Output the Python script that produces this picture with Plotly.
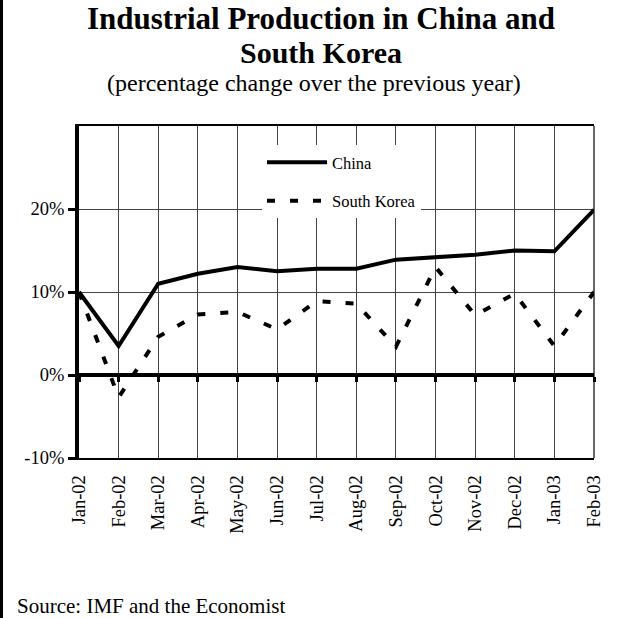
import plotly.graph_objects as go

months = ["Jan-02", "Feb-02", "Mar-02", "Apr-02", "May-02", "Jun-02", "Jul-02",
          "Aug-02", "Sep-02", "Oct-02", "Nov-02", "Dec-02", "Jan-03", "Feb-03"]
china = [10.0, 3.5, 11.0, 12.2, 13.0, 12.5, 12.8, 12.8, 13.9, 14.2, 14.5, 15.0, 14.9, 19.9]
south_korea = [10.0, -2.7, 4.6, 7.3, 7.6, 5.5, 8.9, 8.6, 3.4, 13.0, 7.2, 9.8, 3.5, 10.0]
y_ticks = [-10, 0, 10, 20]
y_tick_labels = ["-10%", "0%", "10%", "20%"]

title_line1 = "Industrial Production in China and"
title_line2 = "South Korea"
subtitle_text = "(percentage change over the previous year)"
source_text = "Source: IMF and the Economist"

FONT = "Liberation Serif, Times New Roman, serif"

# plot-area geometry in pixels (for converting text positions to paper coords)
W, H = 641, 618
L, R, T, B = 79, 47, 126, 160
PW, PH = W - L - R, H - T - B


def px(x):
    return (x - L) / PW


def py(y):
    return (H - B - y) / PH


fig = go.Figure()
fig.add_trace(go.Scatter(
    x=months, y=china, name="China", mode="lines",
    line=dict(color="black", width=4), legendgroup="a", hoverinfo="skip"))
fig.add_trace(go.Scatter(
    x=months, y=south_korea, name="South Korea", mode="lines",
    line=dict(color="black", width=4, dash="8px,15px"), legendgroup="b",
    hoverinfo="skip"))

fig.update_layout(
    width=W, height=H,
    margin=dict(l=L, r=R, t=T, b=B, pad=0),
    paper_bgcolor="white", plot_bgcolor="white",
    font=dict(family=FONT, color="black"),
    showlegend=True,
    legend=dict(
        x=px(262), y=py(145), xanchor="left", yanchor="top",
        bgcolor="white", borderwidth=0,
        font=dict(family=FONT, size=16.5, color="black"),
        itemwidth=60, tracegroupgap=14, traceorder="grouped"),
    xaxis=dict(
        type="category", categoryorder="array", categoryarray=months,
        range=[0, len(months) - 1],
        showgrid=True, gridcolor="#444", gridwidth=1,
        showline=True, linecolor="black", linewidth=1.5, mirror=True,
        ticks="", tickangle=-90, ticklabelstandoff=8,
        tickfont=dict(family=FONT, size=18.5, color="black"),
        zeroline=False),
    xaxis2=dict(
        overlaying="x", anchor="free", position=0.25,
        range=[0, len(months) - 1],
        tickmode="array", tickvals=list(range(len(months))),
        showticklabels=False, showgrid=False, zeroline=False,
        showline=True, linecolor="black", linewidth=4,
        ticks="outside", ticklen=5, tickwidth=3, tickcolor="black"),
    yaxis=dict(
        range=[-10, 30], tickmode="array", tickvals=y_ticks, ticktext=y_tick_labels,
        showgrid=True, gridcolor="#444", gridwidth=1,
        showline=True, linecolor="black", linewidth=4,
        ticks="outside", ticklen=7, tickwidth=3, tickcolor="black",
        tickfont=dict(family=FONT, size=18.5, color="black"),
        zeroline=False),
    shapes=[
        dict(type="line", xref="paper", yref="paper", x0=1, x1=1, y0=0, y1=1,
             line=dict(color="black", width=1.2)),
        dict(type="rect", xref="paper", yref="paper",
             x0=px(0), x1=px(3), y0=py(H), y1=py(0),
             fillcolor="black", line=dict(width=0)),
    ],
    annotations=[
        dict(text="<b>" + title_line1 + "</b>", xref="paper", yref="paper",
             x=px(321), y=py(0.3), xanchor="center", yanchor="top", borderpad=0,
             showarrow=False, font=dict(family=FONT, size=31, color="black")),
        dict(text="<b>" + title_line2 + "</b>", xref="paper", yref="paper",
             x=px(321), y=py(34.6), xanchor="center", yanchor="top", borderpad=0,
             showarrow=False, font=dict(family=FONT, size=30, color="black")),
        dict(text=subtitle_text, xref="paper", yref="paper",
             x=px(314), y=py(68.6), xanchor="center", yanchor="top", borderpad=0,
             showarrow=False, font=dict(family=FONT, size=24, color="black")),
        dict(text=source_text, xref="paper", yref="paper",
             x=px(15), y=py(592), xanchor="left", yanchor="top",
             showarrow=False, font=dict(family=FONT, size=21, color="black")),
    ],
)

# invisible helper so xaxis2 is rendered
fig.add_trace(go.Scatter(x=[0, len(months) - 1], y=[0, 0], xaxis="x2", mode="lines",
                         line=dict(width=0), showlegend=False, hoverinfo="skip"))

fig.write_html("out.html", config={"displayModeBar": False},
               post_script="document.body.style.margin='0';")
